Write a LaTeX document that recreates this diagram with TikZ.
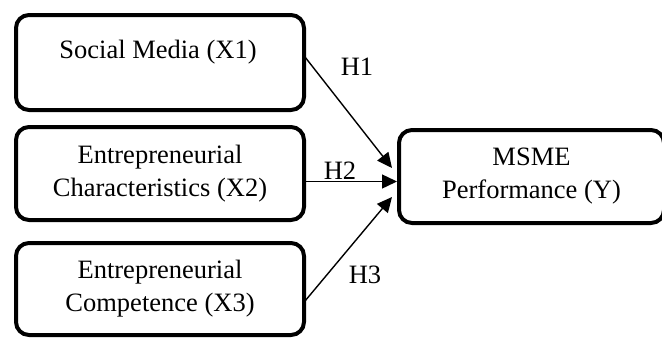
\documentclass[tikz,border=0pt]{standalone}
\usepackage{fontspec}
\setmainfont{Liberation Serif}
\usetikzlibrary{arrows.meta}
\begin{document}
\begin{tikzpicture}[x=1pt,y=-1pt,
  box/.style={draw,line width=4pt,rounded corners=13pt,align=center,font=\fontsize{26.5}{33}\selectfont,inner sep=0pt},
  conn/.style={line width=1.4pt,-{Triangle[length=15pt,width=14pt]}},
  lab/.style={font=\fontsize{26.5}{30}\selectfont,inner sep=0pt,anchor=base}]
\useasboundingbox (0,0) rectangle (662,338);
\node[box,minimum width=288pt,minimum height=95pt] (x1) at (160,62.5) {};
\node[font=\fontsize{26.5}{30}\selectfont,inner sep=0pt] (t1) at (158,52) {Social Media (X1)};
\node[box,minimum width=288pt,minimum height=93pt] (x2) at (160,173.5) {Entrepreneurial\\Characteristics (X2)};
\node[box,minimum width=288pt,minimum height=92pt] (x3) at (160,289) {Entrepreneurial\\Competence (X3)};
\node[box,minimum width=265pt,minimum height=93pt] (y) at (531.5,176.5) {MSME\\Performance (Y)};
\coordinate (a1) at (305,57);
\coordinate (a3) at (305,301);
\coordinate (b1) at (392,168);
\coordinate (b3) at (392,197);
\coordinate (a2) at (305,181.5);
\coordinate (b2) at (397,181.5);
\draw[conn] (a1) -- (b1);
\draw[conn] (a2) -- (b2);
\draw[conn] (a3) -- (b3);
\node[lab] (h1) at (357,75) {H1};
\node[lab] (h2) at (340,179) {H2};
\node[lab] (h3) at (365,283) {H3};
\end{tikzpicture}
\end{document}
